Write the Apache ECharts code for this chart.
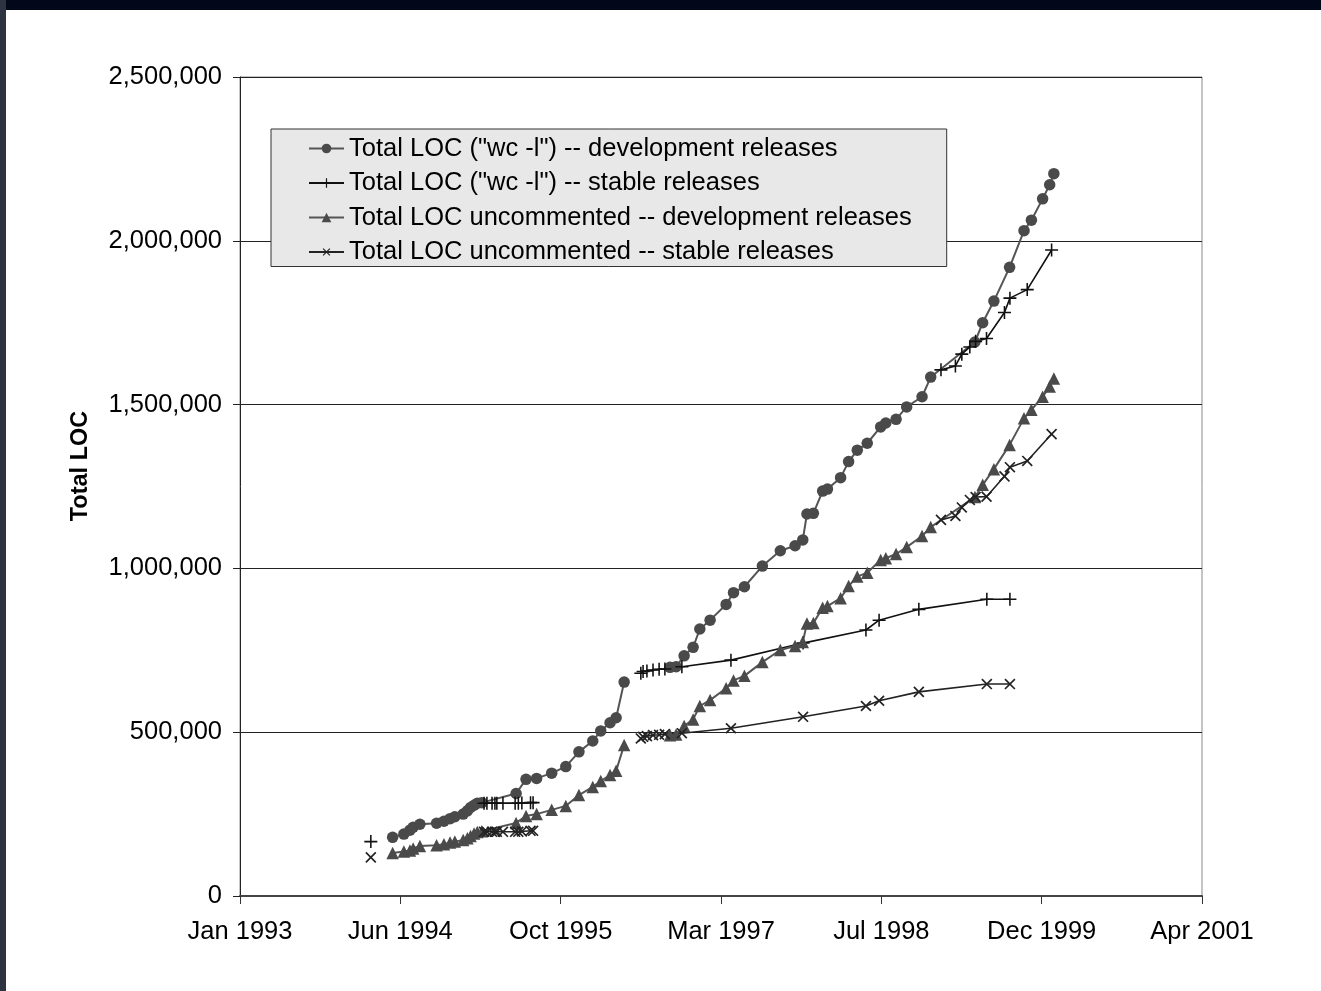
<!DOCTYPE html>
<html>
<head>
<meta charset="utf-8">
<script src="https://cdn.jsdelivr.net/npm/echarts@6/dist/echarts.min.js"></script>
<style>
  html, body { margin: 0; padding: 0; background: #ffffff; }
  #chart { position: absolute; left: 0; top: 0; width: 1321px; height: 991px; background: #ffffff; }
  #topband { position: absolute; left: 0; top: 0; width: 1321px; height: 10px; background: #03071a; }
  #leftband { position: absolute; left: 0; top: 0; width: 6px; height: 991px; background: #2e3342; }
</style>
</head>
<body>
<div id="chart"></div>
<div id="topband"></div>
<div id="leftband"></div>
<script>
// ---- Data ----
const legendNames = [
  'Total LOC ("wc -l") -- development releases',
  'Total LOC ("wc -l") -- stable releases',
  'Total LOC uncommented -- development releases',
  'Total LOC uncommented -- stable releases'
];

// development releases (null = gap in the line)
const devDates = [
  '1994-05-22','1994-06-26','1994-07-15','1994-07-25','1994-08-15','1994-10-06','1994-10-29','1994-11-17',
  '1994-12-02','1994-12-28','1995-01-10','1995-01-20','1995-01-31','1995-02-10','1995-02-24','1995-06-11',
  '1995-07-12','1995-08-14','1995-09-30','1995-11-13','1995-12-24','1996-02-05','1996-03-01','1996-03-30',
  '1996-04-18','1996-05-13',
  null,
  '1996-10-03','1996-10-22','1996-11-16','1996-12-14','1997-01-04','1997-02-05','1997-03-27','1997-04-19',
  '1997-05-23','1997-07-18','1997-09-12','1997-10-28','1997-11-21','1997-12-04','1997-12-24','1998-01-22',
  '1998-02-06','1998-03-19','1998-04-13','1998-05-10','1998-06-10','1998-07-22','1998-08-07','1998-09-08',
  '1998-10-11','1998-11-28','1998-12-25','1999-05-12','1999-06-05','1999-07-10','1999-08-28','1999-10-12',
  '1999-11-04','1999-12-09','1999-12-31','2000-01-13'
];
const devLOC = [
  179000,189000,201000,210000,219000,222000,228000,236000,
  242000,250000,260000,270000,277000,283000,285000,313000,
  356000,359000,375000,395000,440000,473000,504000,529000,
  544000,653000,
  null,
  698000,700000,733000,759000,815000,842000,890000,926000,
  944000,1007000,1054000,1069000,1087000,1166000,1168000,1236000,
  1242000,1277000,1326000,1361000,1382000,1432000,1444000,1455000,
  1493000,1524000,1584000,1691000,1750000,1816000,1919000,2031000,
  2063000,2128000,2171000,2205000
];
const devUncommented = [
  131000,136000,139000,145000,153000,155000,158000,163000,
  166000,171000,176000,183000,191000,195000,198000,223000,
  244000,250000,263000,275000,308000,333000,351000,369000,
  382000,461000,
  null,
  491000,493000,519000,539000,580000,598000,634000,658000,
  672000,714000,751000,763000,775000,832000,833000,880000,
  885000,909000,946000,975000,987000,1026000,1031000,1044000,
  1065000,1099000,1126000,1218000,1255000,1303000,1377000,1458000,
  1484000,1524000,1555000,1580000
];

// stable releases (null = gap in the line)
const stableDates = [
  '1994-03-15',
  null,
  '1995-03-03','1995-03-12','1995-03-28','1995-04-06','1995-04-12','1995-05-01','1995-06-08','1995-06-18',
  '1995-06-29','1995-07-26','1995-08-03',
  null,
  '1996-07-04','1996-07-11','1996-07-23','1996-08-11','1996-08-30','1996-09-17','1996-11-09','1997-04-11',
  '1997-11-22','1998-06-06','1998-07-17','1998-11-18','1999-06-18','1999-08-29',
  null,
  '1999-01-26','1999-03-12','1999-04-01','1999-04-26','1999-05-14','1999-06-17','1999-08-12','1999-08-29',
  '1999-10-22','2000-01-06'
];
const stableLOC = [
  166000,
  null,
  283000,283000,283000,283000,283000,283000,283000,283000,
  284000,285000,285000,
  null,
  680000,685000,687000,690000,692000,693000,700000,720000,
  772000,812000,842000,875000,906000,906000,
  null,
  1606000,1618000,1654000,1676000,1693000,1702000,1781000,1825000,
  1851000,1972000
];
const stableUncommented = [
  118000,
  null,
  196000,196000,196000,196000,196000,196000,196000,196000,
  197000,199000,199000,
  null,
  481000,486000,488000,491000,492000,494000,497000,512000,
  547000,580000,596000,623000,647000,647000,
  null,
  1148000,1160000,1186000,1209000,1218000,1219000,1281000,1309000,
  1328000,1410000
];

// axis ticks (Excel serial day numbers): Jan 1993 .. Apr 2001 every 500 days
const xMin = 34000, xMax = 37000, xStep = 500;
const yMin = 0, yMax = 2500000, yStep = 500000;
const monthNames = ['Jan','Feb','Mar','Apr','May','Jun','Jul','Aug','Sep','Oct','Nov','Dec'];

// ---- helpers ----
function toSerial(s) {
  const p = s.split('-').map(Number);
  return Date.UTC(p[0], p[1] - 1, p[2]) / 86400000 + 25569;
}
function serialLabel(v) {
  const d = new Date((v - 25569) * 86400000);
  return monthNames[d.getUTCMonth()] + ' ' + d.getUTCFullYear();
}
function pairs(dates, vals) {
  return dates.map((d, i) => (d === null || vals[i] === null) ? ['-', '-'] : [toSerial(d), vals[i]]);
}

const FONT = '"Liberation Sans", Arial, Helvetica, sans-serif';
const plusPath = 'path://M4.4,0H5.6V10H4.4Z M0,4.4H10V5.6H0Z';

const chart = echarts.init(document.getElementById('chart'), null, { renderer: 'canvas' });
chart.setOption({
  animation: false,
  backgroundColor: '#ffffff',
  textStyle: { fontFamily: FONT },
  grid: { left: 240, right: 119, top: 77, bottom: 95, show: true, borderColor: '#8a8a8a', borderWidth: 1, backgroundColor: 'transparent' },
  legend: {
    left: 271, top: 129, orient: 'vertical',
    backgroundColor: '#e8e8e8', borderColor: '#333333', borderWidth: 1, borderRadius: 0,
    padding: [6.5, 35, 1.5, 37],
    itemWidth: 35, itemHeight: 12, itemGap: 8.5,
    textStyle: { fontFamily: FONT, fontSize: 25.5, color: '#000', lineHeight: 26 },
    data: legendNames
  },
  xAxis: {
    type: 'value', min: xMin, max: xMax, interval: xStep,
    axisLine: { show: true, onZero: false, lineStyle: { color: '#444', width: 2 } },
    axisTick: { show: true, inside: false, length: 8, lineStyle: { color: '#333', width: 1 } },
    axisLabel: { margin: 23, fontSize: 25.5, color: '#000', fontFamily: FONT, formatter: serialLabel },
    splitLine: { show: false }
  },
  yAxis: {
    type: 'value', min: yMin, max: yMax, interval: yStep,
    axisLine: { show: true, lineStyle: { color: '#222', width: 1 } },
    axisTick: { show: true, inside: false, length: 7, lineStyle: { color: '#222', width: 1 } },
    axisLabel: { margin: 18, fontSize: 25.5, color: '#000', fontFamily: FONT,
      formatter: v => v.toLocaleString('en-US') },
    splitLine: { show: true, lineStyle: { color: '#222', width: 1 } }
  },
  graphic: [{
    type: 'text', x: 81, y: 466, rotation: Math.PI / 2,
    style: { text: 'Total LOC', font: 'bold 23.5px ' + FONT, fill: '#000', textAlign: 'center', textVerticalAlign: 'middle' }
  }],
  series: [
    {
      name: legendNames[0], type: 'line', data: pairs(devDates, devLOC),
      symbol: 'circle', symbolSize: 11.5, showSymbol: true, connectNulls: false,
      lineStyle: { color: '#555', width: 2 },
      itemStyle: { color: '#4a4a4a', borderWidth: 0 }
    },
    {
      name: legendNames[1], type: 'line', data: pairs(stableDates, stableLOC),
      symbol: plusPath, symbolSize: 13, showSymbol: true, connectNulls: false,
      lineStyle: { color: '#111', width: 1.6 },
      itemStyle: { color: '#111', borderWidth: 0 }
    },
    {
      name: legendNames[2], type: 'line', data: pairs(devDates, devUncommented),
      symbol: 'triangle', symbolSize: 12.5, showSymbol: true, connectNulls: false,
      lineStyle: { color: '#555', width: 2 },
      itemStyle: { color: '#4a4a4a', borderWidth: 0 }
    },
    {
      name: legendNames[3], type: 'line', data: pairs(stableDates, stableUncommented),
      symbol: plusPath, symbolRotate: 45, symbolSize: 14, showSymbol: true, connectNulls: false,
      lineStyle: { color: '#222', width: 1.6 },
      itemStyle: { color: '#222', borderWidth: 0 }
    }
  ]
});
</script>
</body>
</html>
